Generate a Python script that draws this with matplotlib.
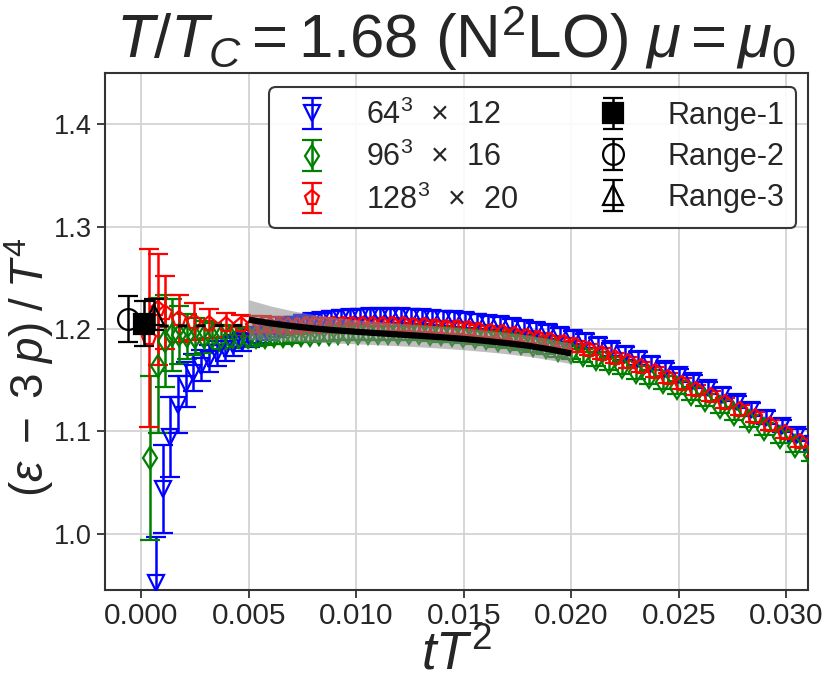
import matplotlib
matplotlib.use("Agg")
import matplotlib.pyplot as plt
import numpy as np

plt.rcParams['font.family'] = ['Liberation Sans', 'DejaVu Sans']
plt.rcParams['mathtext.fontset'] = 'custom'
plt.rcParams['mathtext.rm'] = 'Liberation Sans'
plt.rcParams['mathtext.it'] = 'Liberation Sans:italic'
plt.rcParams['mathtext.bf'] = 'Liberation Sans:bold'

# ---------------- data ----------------
x_64 = [0.00068, 0.00102, 0.00136, 0.00171, 0.00206, 0.00242, 0.00278, 0.00315, 0.00352, 0.00390,
        0.00428, 0.00467, 0.00506, 0.00546, 0.00586, 0.00627, 0.00668, 0.00710, 0.00752, 0.00795,
        0.00838, 0.00882, 0.00927, 0.00972, 0.01018, 0.01064, 0.01111, 0.01158, 0.01206, 0.01255,
        0.01304, 0.01354, 0.01405, 0.01456, 0.01508, 0.01561, 0.01614, 0.01668, 0.01723, 0.01778,
        0.01834, 0.01891, 0.01949, 0.02007, 0.02066, 0.02126, 0.02187, 0.02248, 0.02310, 0.02373,
        0.02437, 0.02502, 0.02567, 0.02634, 0.02701, 0.02769, 0.02838, 0.02908, 0.02979, 0.03051,
        0.03123]
y_64 = [0.952, 1.044, 1.094, 1.126, 1.146, 1.157, 1.164, 1.171, 1.176, 1.180,
        1.184, 1.187, 1.191, 1.194, 1.197, 1.200, 1.202, 1.204, 1.206, 1.2075,
        1.209, 1.210, 1.211, 1.2115, 1.212, 1.2123, 1.2125, 1.2125, 1.2123, 1.2120,
        1.2115, 1.2108, 1.2100, 1.2092, 1.2083, 1.2072, 1.2059, 1.2044, 1.2027, 1.2008,
        1.1988, 1.1967, 1.1943, 1.1915, 1.1882, 1.1845, 1.1802, 1.1758, 1.1710, 1.1659,
        1.1605, 1.1548, 1.1488, 1.1424, 1.1357, 1.1287, 1.1212, 1.1134, 1.1051, 1.0964,
        1.0874]
e_64 = [0.045, 0.043, 0.039, 0.028, 0.022, 0.018, 0.015, 0.013, 0.012, 0.011,
        0.010, 0.009, 0.0085, 0.008, 0.008, 0.0075, 0.0075, 0.0072, 0.0072, 0.007,
        0.007, 0.007, 0.007, 0.007, 0.007, 0.007, 0.007, 0.007, 0.007, 0.007,
        0.007, 0.007, 0.007, 0.007, 0.007, 0.007, 0.007, 0.007, 0.007, 0.007,
        0.0068, 0.0068, 0.0068, 0.0066, 0.0066, 0.0066, 0.0065, 0.0065, 0.0064, 0.0064,
        0.0063, 0.0063, 0.0062, 0.0062, 0.0061, 0.0061, 0.006, 0.006, 0.006, 0.006,
        0.006]

x_96 = [0.00040, 0.00076, 0.00110, 0.00143, 0.00177, 0.00212, 0.00250, 0.00290, 0.00330, 0.00372,
        0.00414, 0.00456, 0.00496, 0.00536, 0.00576, 0.00617, 0.00658, 0.00700, 0.00742, 0.00785,
        0.00828, 0.00872, 0.00917, 0.00962, 0.01008, 0.01054, 0.01101, 0.01148, 0.01196, 0.01245,
        0.01294, 0.01344, 0.01395, 0.01446, 0.01498, 0.01551, 0.01604, 0.01658, 0.01713, 0.01768,
        0.01824, 0.01881, 0.01939, 0.01997, 0.02056, 0.02116, 0.02177, 0.02238, 0.02300, 0.02363,
        0.02427, 0.02492, 0.02557, 0.02624, 0.02691, 0.02759, 0.02828, 0.02898, 0.02969, 0.03041,
        0.03113]
y_96 = [1.074, 1.164, 1.188, 1.194, 1.194, 1.193, 1.1925, 1.192, 1.192, 1.192,
        1.192, 1.192, 1.192, 1.1922, 1.1925, 1.1928, 1.1932, 1.1936, 1.1940, 1.1945,
        1.1950, 1.1954, 1.1957, 1.1959, 1.1961, 1.1962, 1.1963, 1.1963, 1.1962, 1.1960,
        1.1957, 1.1952, 1.1946, 1.1939, 1.1931, 1.1921, 1.1909, 1.1895, 1.1879, 1.1861,
        1.1841, 1.1820, 1.1797, 1.1770, 1.1741, 1.1704, 1.1664, 1.1623, 1.1578, 1.1530,
        1.1479, 1.1425, 1.1367, 1.1306, 1.1241, 1.1173, 1.1101, 1.1025, 1.0945, 1.0860,
        1.0772]
e_96 = [0.080, 0.066, 0.045, 0.035, 0.028, 0.022, 0.018, 0.016, 0.014, 0.012,
        0.011, 0.010, 0.009, 0.0085, 0.008, 0.008, 0.0075, 0.0075, 0.0072, 0.0072,
        0.007, 0.007, 0.007, 0.007, 0.007, 0.007, 0.007, 0.007, 0.007, 0.007,
        0.007, 0.007, 0.007, 0.007, 0.007, 0.007, 0.007, 0.007, 0.007, 0.007,
        0.0068, 0.0068, 0.0068, 0.0066, 0.0066, 0.0066, 0.0065, 0.0065, 0.0064, 0.0064,
        0.0063, 0.0063, 0.0062, 0.0062, 0.0061, 0.0061, 0.006, 0.006, 0.006, 0.006,
        0.006]

x_128 = [0.00037, 0.00076, 0.00112, 0.00175, 0.00247, 0.00317, 0.00392, 0.00465,
         0.00521, 0.00561, 0.00601, 0.00642, 0.00683, 0.00725, 0.00767, 0.00810, 0.00853, 0.00897,
         0.00942, 0.00987, 0.01033, 0.01079, 0.01126, 0.01173, 0.01221, 0.01270, 0.01319, 0.01369,
         0.01420, 0.01471, 0.01523, 0.01576, 0.01629, 0.01683, 0.01738, 0.01793, 0.01849, 0.01906,
         0.01964, 0.02022, 0.02081, 0.02141, 0.02202, 0.02263, 0.02325, 0.02388, 0.02452, 0.02517,
         0.02582, 0.02649, 0.02716, 0.02784, 0.02853, 0.02923, 0.02994, 0.03066, 0.03138]
y_128 = [1.191, 1.219, 1.216, 1.210, 1.207, 1.205, 1.204, 1.2035,
         1.2033, 1.2032, 1.2032, 1.2032, 1.2033, 1.2033, 1.2034, 1.2034, 1.2035, 1.2035,
         1.2035, 1.2035, 1.2036, 1.2039, 1.2040, 1.2040, 1.2037, 1.2033, 1.2028, 1.2021,
         1.2013, 1.2004, 1.1995, 1.1983, 1.1970, 1.1955, 1.1938, 1.1920, 1.1900, 1.1880,
         1.1858, 1.1832, 1.1796, 1.1758, 1.1716, 1.1673, 1.1627, 1.1578, 1.1523, 1.1466,
         1.1406, 1.1343, 1.1277, 1.1209, 1.1137, 1.1061, 1.0981, 1.0896, 1.0806]
e_128 = [0.087, 0.054, 0.036, 0.023, 0.018, 0.014, 0.012, 0.010,
         0.009, 0.009, 0.0085, 0.0085, 0.008, 0.008, 0.0078, 0.0076, 0.0074, 0.0072,
         0.007, 0.007, 0.0068, 0.0066, 0.0064, 0.0062, 0.006, 0.006, 0.006, 0.006,
         0.006, 0.006, 0.006, 0.0058, 0.0058, 0.0056, 0.0056, 0.0055, 0.0055, 0.0055,
         0.0054, 0.0054, 0.0053, 0.0053, 0.0052, 0.0052, 0.0052, 0.0051, 0.0051, 0.005,
         0.005, 0.005, 0.005, 0.005, 0.005, 0.005, 0.005, 0.005, 0.005]

# continuum-extrapolated curve with its uncertainty band
x_fit = [0.0050, 0.0060, 0.0070, 0.0080, 0.0090, 0.0100, 0.0110, 0.0120, 0.0130,
         0.0140, 0.0150, 0.0160, 0.0170, 0.0180, 0.0190, 0.0200]
y_fit = [1.2090, 1.2055, 1.2028, 1.2005, 1.1987, 1.1972, 1.1958, 1.1945, 1.1932,
         1.1918, 1.1902, 1.1883, 1.1861, 1.1835, 1.1800, 1.1760]
hw_fit = [0.0195, 0.0170, 0.0150, 0.0135, 0.0125, 0.0118, 0.0113, 0.0110, 0.0108,
          0.0107, 0.0106, 0.0105, 0.0104, 0.0103, 0.0102, 0.0100]

# zero-flow-time extrapolations
x_rng = [0.00014, -0.0006, 0.0006]
y_rng = [1.205, 1.210, 1.214]
e_rng = [0.022, 0.0225, 0.015]
labels_rng = ['Range-1', 'Range-2', 'Range-3']

x_dash = [0.0, 0.005]
y_dash = [1.2025, 1.2035]

series_labels = [r'$64^3\ \,\times\ \,12$', r'$96^3\ \,\times\ \,16$', r'$128^3\ \,\times\ \,20$']

# ---------------- plot ----------------
fig = plt.figure(figsize=(8.31, 6.82), dpi=100)
ax = fig.add_axes([0.126, 0.135, 0.846, 0.758])

txtc = '#262626'
ekw = dict(capsize=7, elinewidth=1.8, capthick=2.0, markeredgewidth=1.6, linestyle='none')

h1 = ax.errorbar(x_64, y_64, yerr=e_64, color='blue', marker='v', ms=11.5, mfc='none', mec='blue',
                 zorder=3, **ekw)
h2 = ax.errorbar(x_96, y_96, yerr=e_96, color='green', marker='d', ms=11.5, mfc='none', mec='green',
                 zorder=3, **ekw)
h3 = ax.errorbar(x_128, y_128, yerr=e_128, color='red', marker='p', ms=11, mfc='none', mec='red',
                 zorder=3, **ekw)

ax.plot(x_dash, y_dash, color='black', lw=2.2, ls=(0, (3, 3)), zorder=4.5)

xf = np.array(x_fit); yf = np.array(y_fit); hf = np.array(hw_fit)
ax.fill_between(xf, yf - hf, yf + hf, color='#8c8c8c', alpha=0.55, lw=0, zorder=4)
ax.plot(xf, yf, color='black', lw=4.5, zorder=5, solid_capstyle='butt')

r1 = ax.errorbar([x_rng[1]], [y_rng[1]], yerr=[e_rng[1]], color='black', marker='o', ms=15,
                 mfc='none', mec='black', zorder=6, **ekw)
r0 = ax.errorbar([x_rng[0]], [y_rng[0]], yerr=[e_rng[0]], color='black', marker='s', ms=14,
                 mfc='black', mec='black', zorder=7, **ekw)
r2 = ax.errorbar([x_rng[2]], [y_rng[2]], yerr=[e_rng[2]], color='black', marker='^', ms=14,
                 mfc='none', mec='black', zorder=8, **ekw)

ax.set_xlim(-0.0017, 0.031)
ax.set_ylim(0.945, 1.45)
ax.set_xticks([0.000, 0.005, 0.010, 0.015, 0.020, 0.025, 0.030])
ax.set_yticks([1.0, 1.1, 1.2, 1.3, 1.4])
ax.xaxis.set_major_formatter(matplotlib.ticker.FormatStrFormatter('%.3f'))
ax.yaxis.set_major_formatter(matplotlib.ticker.FormatStrFormatter('%.1f'))

ax.grid(True, color='#d3d3d3', lw=1.3, zorder=0)
ax.set_axisbelow(True)
for s in ax.spines.values():
    s.set_color('#333333')
    s.set_linewidth(1.5)
ax.tick_params(axis='both', direction='out', length=6, width=1.3, color='#333333',
               labelcolor=txtc, pad=3)
ax.tick_params(axis='x', labelsize=21.5)
ax.tick_params(axis='y', labelsize=19.5)

ax.set_xlabel(r'$tT^2$', fontsize=38, color=txtc, labelpad=0)
ax.set_ylabel(r'$(\varepsilon\;-\;3\;p)\;/\;T^4$', fontsize=33, color=txtc)
ax.yaxis.set_label_coords(-0.069, 0.43)
ax.set_title(r'$T/T_C = 1.68\ (\mathrm{N}^2\mathrm{LO})\ \mu = \mu_0$', fontsize=44.5, color=txtc, pad=6)

leg = ax.legend([h1, h2, h3, r0, r1, r2], series_labels + labels_rng,
                ncol=2, loc='upper right', bbox_to_anchor=(0.984, 0.972), fontsize=22,
                frameon=True, fancybox=True, framealpha=0.9, edgecolor='#222222',
                handlelength=2.0, handletextpad=0.77, columnspacing=2.1, labelspacing=0.36,
                borderpad=0.4, borderaxespad=0.0)
leg.get_frame().set_linewidth(1.5)
for t in leg.get_texts():
    t.set_color(txtc)
leg.set_zorder(10)

fig.savefig('out.png', dpi=100)
